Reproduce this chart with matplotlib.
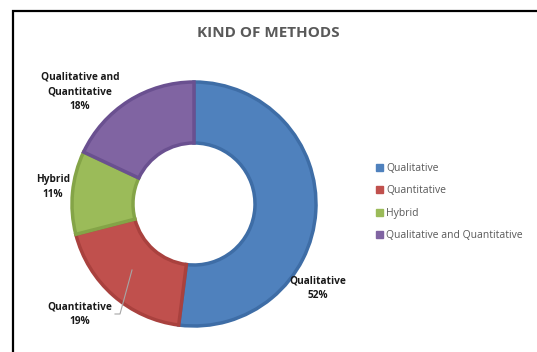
import matplotlib
matplotlib.use("Agg")
from matplotlib import pyplot as plt
from matplotlib.patches import Patch

categories = ["Qualitative", "Quantitative", "Hybrid", "Qualitative and Quantitative"]
values = [52, 19, 11, 18]
label_text = ["Qualitative\n52%", "Quantitative\n19%", "Hybrid\n11%", "Qualitative and\nQuantitative\n18%"]
colors = ["#4F81BD", "#C0504D", "#9BBB59", "#8064A2"]
edge_colors = ["#3E6DA6", "#A9413E", "#84A447", "#6A5090"]

W, H = 537, 352
plt.rcParams['font.family'] = ['Open Sans', 'DejaVu Sans']

fig = plt.figure(figsize=(W / 100, H / 100), dpi=100)
ax = fig.add_axes([0, 0, 1, 1])

# donut, in pixel coordinates (y flipped)
cx, cy, r = 194, H - 204, 122
wedges, _ = ax.pie(values, colors=colors, startangle=90, counterclock=False,
                   center=(cx, cy), radius=r, frame=True,
                   wedgeprops=dict(width=r * 0.5, linewidth=2.5))
for w, ec in zip(wedges, edge_colors):
    w.set_edgecolor(ec)
ax.set_xlim(0, W)
ax.set_ylim(0, H)
ax.set_aspect('equal')
ax.axis('off')

# data labels
label_pos = [(318, 288), (80, 314), (53, 187), (80, 92)]
for txt, (x, y) in zip(label_text, label_pos):
    ax.text(x, H - y, txt, ha='center', va='center', fontsize=7.3,
            fontweight='bold', color='#1A1A1A', linespacing=1.45)

# leader line for the Quantitative label
ax.plot([115, 120, 132], [H - 314, H - 314, H - 270], color='#A6A6A6', lw=0.8)

# title
ax.text(268, H - 33, "KIND OF METHODS", ha='center', va='center',
        fontsize=11, fontweight='bold', color='#595959')

# border (left and top)
ax.plot([13, 13, W + 5], [-5, H - 11, H - 11], color='black', lw=1.6,
        solid_joinstyle='miter', clip_on=False)

handles = [Patch(facecolor=c, edgecolor=c) for c in colors]
fig.legend(handles, categories, loc='upper left',
           bbox_to_anchor=(376 / W, 1 - 163 / H), frameon=False,
           fontsize=7.5, labelcolor='#595959', handlelength=0.65,
           handleheight=0.65, handletextpad=0.35, labelspacing=1.1,
           borderaxespad=0, borderpad=0)

fig.savefig("out.png", dpi=100)
